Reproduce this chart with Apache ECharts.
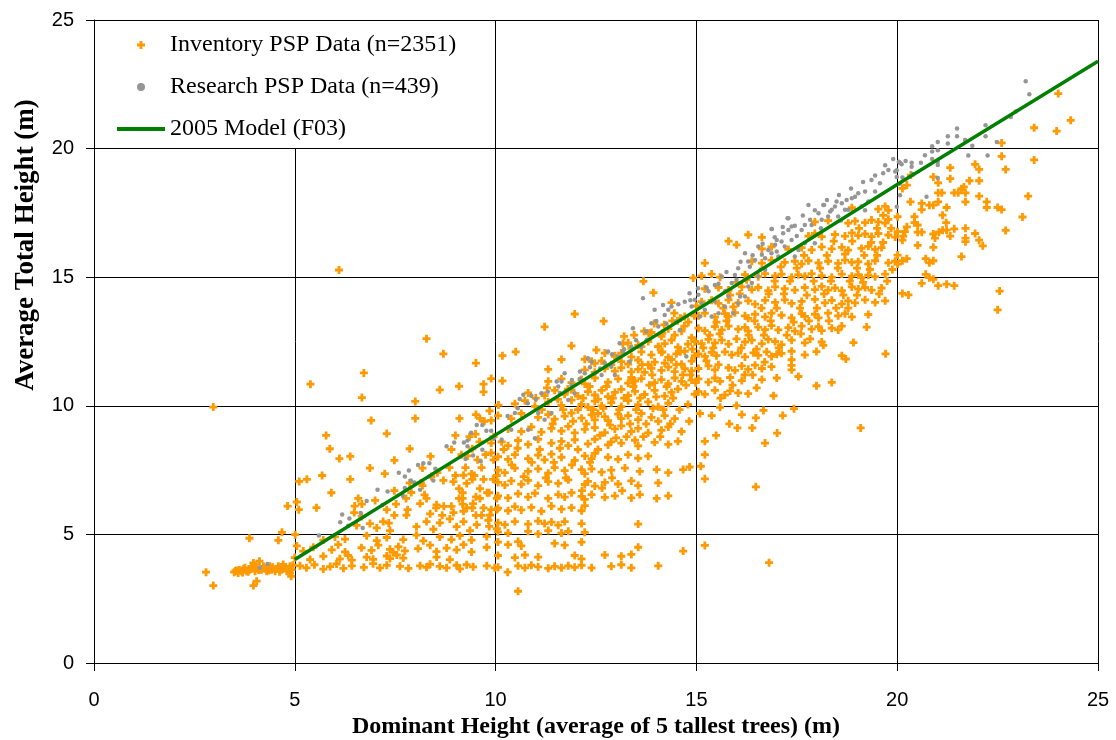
<!DOCTYPE html>
<html>
<head>
<meta charset="utf-8">
<script src="https://cdn.jsdelivr.net/npm/echarts@6/dist/echarts.min.js"></script>
<style>
html,body{margin:0;padding:0;background:#fff;}
#chart{width:1116px;height:740px;}
</style>
</head>
<body>
<div id="chart"></div>
<script>
// Axis ticks
var xTicks = [0, 5, 10, 15, 20, 25];
var yTicks = [0, 5, 10, 15, 20, 25];

// Inventory PSP data (x = dominant height, y = average total height)
var inventoryBelow5 = [
[2.79,3.53],[2.97,3.01],[2.97,9.95],[3.97,3.01],[4.05,3.18],[4.91,3.37],[3.87,4.85],[4.59,4.77],[4.68,5.08],[4.82,6.1],
[3.49,3.53],[3.55,3.6],[3.59,3.5],[3.68,3.57],[3.73,3.66],[3.8,3.57],[3.87,3.63],[3.92,3.76],[3.97,3.89],[4.01,3.57],
[4.05,3.7],[4.12,3.96],[4.17,3.63],[4.22,3.76],[4.3,3.57],[4.38,3.76],[4.42,3.63],[4.51,3.57],[4.59,3.76],[4.67,3.63],
[4.71,3.83],[4.8,3.57],[4.88,3.76],[4.92,3.63],[3.52,3.58],[3.62,3.62],[3.7,3.52],[3.76,3.7],[3.84,3.55],[3.9,3.65],
[4.0,3.8],[4.1,3.62],[4.25,3.68],[4.35,3.6],[4.45,3.72],[4.55,3.65],[4.62,3.55],[4.75,3.7],[4.85,3.62],[4.95,3.8]
];
var inventory5to10 = [
[6.1,15.28],[8.28,12.61],[8.7,12.02],[9.51,11.66],[9.89,11.06],[5.39,10.84],[6.72,11.28],[6.67,10.32],[8.61,10.62],[9.09,10.76],
[9.7,10.84],[9.7,10.54],[8.0,10.17],[8.0,9.51],[6.9,9.43],[7.29,8.92],[5.78,8.85],[5.87,8.33],[6.11,7.95],[6.38,8.03],
[6.38,7.14],[6.87,7.58],[7.48,7.88],[7.86,8.33],[8.38,8.03],[9.1,9.51],[9.51,9.66],[9.61,9.51],[9.89,9.43],[10.07,10.03],
[9.0,8.85],[9.42,8.33],[9.89,8.55],[9.89,8.17],[7.24,7.36],[7.0,6.32],[5.3,7.14],[5.11,7.06],[5.68,7.29],[5.91,6.62],
[6.58,6.4],[6.49,6.1],[6.67,6.18],[5.54,6.04],[5.1,5.96],[5.05,6.26],[7.48,6.7],[7.52,6.18],[7.48,5.74],[7.29,5.96],
[7.34,5.44],[7.77,6.4],[7.81,5.96],[7.86,7.0],[7.9,6.63],[8.14,7.0],[8.23,6.54],[8.28,6.4],[8.18,7.58],[8.52,6.03],
[8.71,6.09],[8.9,6.09],[8.67,5.74],[9.0,7.29],[9.09,6.78],[9.18,6.62],[9.09,6.4],[9.18,6.4],[9.28,6.98],[9.18,6.18],
[9.28,6.03],[9.42,7.14],[9.47,7.29],[9.51,6.46],[9.61,6.78],[9.61,6.4],[9.7,7.14],[9.79,6.62],[9.84,6.62],[9.94,7.14],
[10.03,7.29],[9.42,6.03],[9.51,5.74],[9.65,5.74],[9.7,6.03],[9.89,5.96],[9.84,5.31],[10.03,6.4],[10.03,5.96],[10.03,5.22],
[8.18,6.9],[8.4,7.25],[8.55,7.4],[8.85,7.6],[9.25,7.6],[9.55,7.9],[9.75,8.1],[9.95,8.8],[9.6,8.6],[9.3,8.05],
[8.9,8.3],[9.15,8.1],[9.35,8.8],[9.5,8.9],[9.72,9.4],[9.85,9.8],[9.95,7.9],[9.4,7.35],[9.65,7.6],[8.7,7.1],[8.95,7.05],[9.2,7.3],
[6.48,5.85],[6.67,5.7],[7.78,5.75],[8.12,6.2],[8.37,5.8],[8.53,6.15],[8.95,5.85],[9.2,5.9],[9.44,6.2],[9.86,5.75],
[6.54,5.35],[6.87,5.42],[7.04,5.25],[7.2,5.5],[7.37,5.15],[8.03,5.3],[8.28,5.5],[8.45,5.2],[8.61,5.45],[8.86,5.6],
[9.03,5.3],[9.2,5.5],[9.36,5.15],[9.53,5.38],[9.82,5.55],
[5.01,4.99],[5.71,4.78],[6.0,4.9],[6.25,4.82],[6.79,4.95],[7.04,4.76],[7.29,4.88],[7.7,4.8],[8.03,4.97],[8.2,4.75],
[8.61,4.9],[8.9,4.8],[9.11,4.95],[9.4,4.78],[9.78,4.92],
[5.05,4.55],[5.21,4.35],[5.46,4.5],[5.92,4.4],[6.08,4.6],[6.25,4.32],[6.66,4.48],[6.91,4.38],[7.08,4.58],[7.37,4.42],
[7.45,4.3],[7.58,4.52],[7.74,4.36],[8.07,4.45],[8.37,4.58],[8.53,4.33],[8.78,4.47],[9.03,4.4],[9.2,4.6],[9.4,4.32],[9.78,4.5],
[5.0,4.1],[5.38,4.02],[5.71,4.15],[6.12,4.05],[6.33,4.18],[6.42,4.0],[6.79,4.12],[6.95,4.03],[7.29,4.16],[7.37,4.06],
[7.54,4.2],[7.7,4.08],[8.53,4.12],[8.86,4.02],
[4.88,3.5],[5.13,3.78],[5.29,3.7],[5.49,3.82],[5.71,3.65],[5.88,3.75],[6.04,3.85],[6.21,3.68],[6.42,3.78],[6.72,3.72],
[6.95,3.86],[7.12,3.7],[7.29,3.8],[7.62,3.76],[7.83,3.68],[8.12,3.78],[8.28,3.72],[8.37,3.84],[8.61,3.76],[8.78,3.7],
[9.03,3.8],[9.11,3.66],[9.28,3.82],[9.44,3.74],[9.78,3.78],[9.98,3.7]
];
var inventory10to15 = [
[13.68,14.84],[13.93,14.4],[14.92,14.97],[11.97,13.57],[11.22,13.07],[12.69,13.29],[11.89,12.33],[10.5,12.1],[10.17,11.95],[10.17,10.97],
[11.31,11.42],[11.64,11.8],[12.22,11.81],[12.39,11.73],[12.51,12.17],[12.72,12.05],[12.97,11.92],[13.17,12.41],[13.38,12.23],[13.63,12.3],
[13.81,12.82],[14.05,12.3],[14.15,12.82],[14.38,14.01],[14.53,13.31],[14.71,13.47],[15.0,13.88],
[14.4,13.3],[14.6,13.4],[14.8,13.25],[14.95,13.5],[14.7,13.1],
[13.2,12.7],[13.45,12.75],[13.7,12.9],[13.95,13.2],[14.2,13.15],[14.45,13.6],[14.15,12.1],[13.9,11.2],[14.6,12.1],[14.85,11.2],[13.65,11.6],[13.4,11.0],
[13.88,12.85],[14.13,12.7],[14.3,13.0],[14.46,12.75],[14.63,12.9],[14.88,12.65],
[13.3,12.45],[13.55,12.35],[13.8,12.5],[14.05,12.3],[14.21,12.42],[14.38,12.55],[14.54,12.28],[14.79,12.4],[14.96,12.5],
[12.97,11.95],[13.13,12.05],[13.38,11.9],[13.63,12.1],[13.88,11.98],[14.13,12.08],[14.3,11.88],[14.5,12.02],[14.71,12.12],[14.96,11.95],
[12.47,11.65],[12.64,11.75],[12.88,11.6],[13.13,11.72],[13.3,11.62],[13.55,11.78],[13.8,11.6],[13.96,11.7],[14.21,11.66],[14.38,11.8],[14.63,11.62],[14.88,11.74],
[12.22,11.4],[12.47,11.3],[12.72,11.45],[12.97,11.35],[13.13,11.48],[13.38,11.32],[13.55,11.42],[13.71,11.3],[13.88,11.46],[14.13,11.38],[14.3,11.5],[14.46,11.33],[14.71,11.44],[14.88,11.36],
[11.31,10.95],[11.64,11.05],[11.89,10.9],[12.14,11.02],[12.22,10.85],[12.47,11.08],[12.8,10.92],[13.05,11.05],[13.3,10.88],[13.38,11.1],
[13.47,10.96],[13.63,11.06],[13.96,10.9],[14.13,11.02],[14.3,10.86],[14.46,11.08],[14.63,10.95],[14.88,11.0],
[10.81,10.5],[11.22,10.4],[11.47,10.6],[11.72,10.45],[11.89,10.62],[12.05,10.38],[12.3,10.55],[12.47,10.42],[12.64,10.6],[12.8,10.36],
[12.97,10.52],[13.13,10.64],[13.3,10.4],[13.47,10.56],[13.71,10.44],[13.96,10.6],[14.21,10.38],[14.38,10.52],[14.54,10.65],[14.96,10.45],
[10.48,10.08],[10.73,10.2],[10.98,9.98],[11.31,10.15],[11.64,10.02],[11.89,10.22],[12.14,10.05],[12.3,9.95],[12.47,10.18],[12.64,10.0],
[12.88,10.12],[13.13,9.97],[13.3,10.2],[13.55,10.04],[13.8,10.15],[14.05,9.96],[14.3,10.1],[14.79,10.05],
[11.0,10.3],[11.15,9.85],[11.28,10.7],[11.42,9.3],[11.55,10.25],[11.68,9.85],[11.8,10.65],[11.93,9.4],[12.05,9.85],[12.18,10.3],
[12.26,9.3],[12.34,10.75],[12.43,9.85],[12.55,10.25],[12.6,8.85],[12.68,9.9],[12.76,10.75],[12.85,9.25],[12.92,10.3],[13.0,8.75],
[13.08,9.85],[13.2,10.3],[13.26,8.8],[13.35,9.3],[13.43,10.75],[13.5,9.85],[13.6,10.3],[13.68,8.8],[13.75,9.3],[13.83,10.8],
[13.92,9.9],[14.0,10.35],[14.1,8.8],[14.18,9.85],[14.26,10.75],[14.35,9.3],[14.42,10.3],[14.5,11.6],[14.58,9.85],[14.66,11.2],
[14.74,10.8],[14.82,9.4],[14.9,12.2],[14.98,10.9],
[10.06,9.62],[10.39,9.5],[10.64,9.7],[11.06,9.55],[11.31,9.66],[11.47,9.48],[11.72,9.6],[11.89,9.72],[12.14,9.52],[12.39,9.65],
[12.47,9.45],[12.55,9.7],[12.72,9.58],[12.8,9.42],[13.05,9.68],[13.13,9.5],[13.3,9.62],[13.55,9.46],[13.63,9.7],[13.88,9.55],[14.05,9.4],[14.21,9.62],[14.46,9.5],
[10.31,9.1],[10.64,9.0],[10.89,9.18],[11.14,8.98],[11.39,9.12],[11.64,9.02],[11.81,9.2],[11.97,8.95],[12.22,9.08],[12.47,9.15],
[12.72,8.96],[12.97,9.1],[13.13,9.22],[13.38,9.0],[13.55,9.12],[13.8,8.95],[14.13,9.05],[14.3,9.18],[14.63,9.0],
[10.15,8.6],[10.31,8.45],[10.56,8.65],[10.81,8.5],[11.06,8.7],[11.39,8.55],[11.64,8.62],[11.81,8.45],[11.97,8.68],[12.3,8.52],
[12.47,8.7],[12.8,8.48],[12.88,8.6],[13.13,8.55],[13.47,8.66],[13.55,8.44],[13.96,8.58],[14.3,8.5],[14.54,8.62],
[10.06,8.02],[10.31,7.92],[10.48,8.1],[10.81,7.95],[11.06,8.08],[11.22,7.9],[11.39,8.12],[11.64,8.0],[11.97,7.88],[12.22,8.05],
[12.39,7.95],[12.47,8.15],[12.8,8.0],[13.05,7.92],[13.3,8.1],[13.55,7.96],[13.8,8.04],
[10.2,8.3],[10.4,7.7],[10.55,8.35],[10.7,7.25],[10.9,7.8],[11.1,8.3],[11.25,7.2],[11.45,7.8],[11.6,8.35],[11.75,7.2],
[11.9,7.7],[12.05,8.3],[12.15,6.7],[12.35,7.8],[12.55,8.3],[12.65,6.8],[12.9,7.2],[13.15,6.7],
[10.06,7.5],[10.23,7.4],[10.48,7.58],[10.81,7.45],[11.06,7.55],[11.31,7.38],[11.47,7.6],[11.72,7.48],[12.14,7.52],[12.22,7.36],
[12.39,7.55],[12.64,7.42],[12.88,7.5],[13.22,7.58],[13.59,7.45],[14.01,7.52],[14.3,7.4],[14.67,7.52],[14.83,7.62],
[10.06,7.02],[10.23,6.92],[10.39,7.08],[10.64,6.95],[10.81,7.1],[11.06,6.9],[11.31,7.05],[11.56,6.98],[11.81,7.12],[12.22,6.94],
[12.3,7.06],[12.47,6.88],[12.72,7.02],[13.05,6.96],[13.38,7.08],[13.55,6.9],[14.05,7.0],
[10.06,6.5],[10.31,6.42],[10.56,6.58],[10.81,6.45],[10.98,6.6],[11.31,6.4],[11.56,6.55],[11.72,6.45],[11.89,6.62],[12.14,6.48],
[12.22,6.36],[12.39,6.55],[12.72,6.44],[12.97,6.5],[13.38,6.42],[13.59,6.55],[14.01,6.4],[14.3,6.5],
[10.06,6.02],[10.31,5.92],[10.48,6.08],[10.64,5.95],[10.89,6.05],[11.14,5.9],[11.39,6.1],[11.64,5.98],[11.89,6.04],[12.14,5.92],[12.22,6.12],
[10.06,5.45],[10.23,5.38],[10.48,5.5],[10.81,5.4],[11.06,5.52],[11.22,5.42],[11.39,5.48],[11.56,5.36],[11.72,5.5],[12.14,5.42],[13.55,5.4],
[10.06,5.1],[10.31,5.05],[10.81,5.12],[11.06,5.02],[11.31,5.15],[11.64,5.05],[11.81,5.12],[12.22,5.08],
[10.06,4.7],[10.31,4.6],[10.56,4.72],[10.64,4.55],[11.47,4.65],[11.72,4.58],[12.14,4.7],[13.55,4.5],
[10.06,4.18],[10.48,4.1],[10.73,4.2],[11.06,4.12],[11.97,4.18],[12.14,4.05],[12.72,4.2],[13.13,4.15],[13.38,4.22],[14.67,4.35],
[10.06,3.72],[10.56,3.78],[10.73,3.7],[10.89,3.8],[11.06,3.74],[11.31,3.68],[11.47,3.76],[11.64,3.7],[11.81,3.78],[11.97,3.72],
[12.14,3.8],[12.39,3.7],[12.88,3.76],[13.13,3.82],[13.38,3.7],[14.05,3.78],[10.3,3.53],[10.56,2.79]
];
var inventory15to20 = [
[15.21,4.57],[16.81,3.9],[16.48,6.85],[15.21,7.16],[15.11,7.65],[15.21,8.1],[15.21,8.62],[16.71,8.55],[17.01,8.94],[15.49,8.85],
[16.02,9.14],[16.39,9.14],[19.09,9.14],[15.82,9.3],[16.48,9.53],[17.15,9.62],[17.43,9.89],[16.67,9.82],[16.13,9.66],[15.09,9.7],
[15.38,9.62],[15.59,9.94],[16.0,10.01],[16.92,10.39],[16.29,10.47],[17.99,10.78],[18.37,10.91],[17.54,11.14],[17.0,11.08],[18.62,11.95],
[18.72,11.82],[19.71,12.02],[19.24,13.06],[18.91,12.46],[17.99,12.11],[17.37,11.79],[17.37,11.57],
[15.05,10.55],[15.21,10.45],[15.46,10.6],[15.71,10.42],[15.84,10.58],[16.04,10.5],
[15.05,11.05],[15.3,10.92],[15.46,11.08],[15.59,10.95],[15.84,11.1],[16.13,10.98],[16.63,11.02],
[15.05,11.45],[15.3,11.55],[15.46,11.4],[15.55,11.6],[15.8,11.48],[15.96,11.38],[16.13,11.55],[16.29,11.42],[16.46,11.58],[16.63,11.45],[16.87,11.52],[17.37,11.4],
[15.05,12.02],[15.21,11.92],[15.38,12.08],[15.5,11.95],[15.71,12.1],[15.88,11.98],[16.04,12.05],[16.21,11.9],[16.42,12.06],[16.54,11.96],[16.75,12.1],[16.87,11.92],[17.12,12.04],[17.37,12.12],[17.7,11.98],
[14.97,12.5],[15.13,12.42],[15.3,12.58],[15.46,12.45],[15.63,12.55],[15.8,12.4],[16.0,12.6],[16.21,12.48],[16.38,12.55],[16.63,12.42],
[16.79,12.58],[16.96,12.5],[17.12,12.38],[17.37,12.55],[17.7,12.45],[17.83,12.6],[18.12,12.48],[18.16,12.35],
[15.05,13.02],[15.21,12.92],[15.46,13.08],[15.63,12.95],[15.8,13.1],[16.04,12.98],[16.21,13.05],[16.29,12.9],[16.54,13.06],[16.71,12.96],
[16.87,13.12],[17.04,12.95],[17.29,13.04],[17.45,12.9],[17.62,13.1],[17.87,12.98],[18.04,13.08],[18.12,12.92],[18.37,13.02],[18.53,12.95],[18.62,13.1],
[15.05,13.5],[15.21,13.6],[15.46,13.45],[15.71,13.58],[15.8,13.48],[15.96,13.62],[16.21,13.5],[16.29,13.4],[16.46,13.56],[16.71,13.46],
[16.87,13.6],[17.12,13.52],[17.37,13.42],[17.62,13.58],[17.7,13.48],[17.95,13.56],[18.04,13.42],[18.28,13.6],[18.53,13.5],[18.7,13.58],[18.87,13.46],[19.28,13.55],
[15.13,14.05],[15.38,14.1],[15.55,13.98],[15.8,14.12],[16.04,14.0],[16.29,14.08],[16.46,13.95],[16.71,14.1],[16.96,14.02],[17.2,14.12],
[17.37,13.98],[17.62,14.06],[17.95,14.14],[18.2,14.0],[18.37,14.1],[18.62,13.96],[18.78,14.08],[18.95,14.0],[19.2,14.12],[19.45,14.02],[19.7,14.08],
[15.21,14.55],[15.55,14.6],[15.8,14.5],[16.13,14.62],[16.38,14.52],[16.54,14.6],[16.79,14.48],[16.96,14.62],[17.2,14.55],[17.45,14.5],
[17.7,14.6],[17.95,14.52],[18.12,14.64],[18.28,14.5],[18.45,14.58],[18.62,14.48],[18.87,14.62],[19.03,14.54],[19.2,14.6],[19.36,14.5],[19.61,14.58],
[15.13,15.05],[15.38,15.12],[15.59,15.0],[16.21,15.1],[16.54,15.02],[16.71,15.14],[16.96,15.05],[17.12,15.12],[17.37,15.0],[17.54,15.1],
[17.7,15.04],[17.87,15.14],[18.12,15.06],[18.37,15.0],[18.62,15.12],[18.87,15.04],[19.03,15.1],[19.11,14.98],[19.28,15.08],[19.45,15.02],[19.7,15.12],
[15.21,15.55],[16.38,15.62],[16.63,15.55],[16.87,15.66],[17.2,15.58],[17.45,15.62],[17.62,15.52],[17.79,15.64],[18.04,15.56],[18.28,15.62],
[18.53,15.54],[18.7,15.66],[18.87,15.58],[19.03,15.6],[19.28,15.52],[19.45,15.64],[19.78,15.56],[19.95,15.62],
[15.8,16.4],[16.0,16.26],[16.63,16.1],[16.87,16.18],[17.29,16.08],[17.62,16.15],[17.87,16.06],[18.12,16.18],[18.37,16.1],[18.62,16.16],
[18.78,16.05],[19.11,16.12],[19.28,16.2],[19.45,16.08],[19.61,16.15],
[16.29,16.65],[16.63,16.55],[17.79,16.6],[17.95,16.7],[18.12,16.58],[18.45,16.66],[18.7,16.6],[18.87,16.72],[19.03,16.62],[19.2,16.68],
[19.36,16.58],[19.53,16.7],[19.78,16.64],[19.95,16.56],
[17.95,17.15],[18.28,17.2],[18.78,17.1],[18.95,17.18],[19.2,17.12],[19.36,17.22],[19.53,17.15],[19.7,17.1],[19.78,17.25],
[18.87,17.7],[19.53,17.65],[19.7,17.75],[19.78,17.6],
[15.17,12.25],[15.33,12.75],[15.5,13.25],[15.67,13.8],[15.84,14.3],[16.0,14.8],[15.25,11.75],[15.42,12.25],[15.58,12.8],[15.75,13.3],
[15.92,13.85],[16.08,14.35],[16.25,14.9],[16.12,12.25],[16.3,12.75],[16.45,13.3],[16.62,13.8],[16.8,14.35],[16.95,14.85],[17.1,15.4],
[16.5,12.2],[16.68,12.75],[16.85,13.3],[17.0,13.8],[17.18,14.35],[17.33,14.85],[17.5,15.35],[17.68,15.85],[17.05,12.25],[17.25,12.75],
[17.42,13.25],[17.58,13.8],[17.75,14.3],[17.92,14.85],[18.08,15.35],[18.25,15.85],[18.42,16.4],[17.6,12.8],[17.8,13.3],[18.0,13.8],
[18.18,14.35],[18.35,14.85],[18.52,15.35],[18.7,15.9],[18.88,16.4],[19.05,16.9],[18.3,13.3],[18.48,13.8],[18.66,14.3],[18.82,14.85],
[19.0,15.35],[19.18,15.85],[19.35,16.35],[19.5,16.9],[19.65,17.4],[18.78,13.8],[19.0,14.3],[19.15,14.8],[19.32,15.3],[19.5,15.85],
[19.65,16.35],[19.85,16.9],[19.55,14.35],[19.75,14.85],[19.88,15.3],[16.4,11.2],[16.7,11.7],[17.0,12.0],[15.6,10.3],[15.9,10.8],
[16.2,11.2],[16.5,10.7]
];
var inventoryAbove20 = [
[24.01,22.14],[24.32,21.1],[23.97,20.68],[23.41,20.81],[23.41,19.56],[22.6,20.22],[22.6,19.7],[22.7,19.19],[23.26,18.15],[23.12,17.34],
[22.7,16.82],[22.5,17.71],[22.6,17.63],[22.23,17.93],[22.23,17.71],[22.04,18.75],[22.04,18.15],[21.94,19.39],[22.04,19.19],[21.8,18.75],
[21.7,17.93],[21.7,18.28],[21.66,18.51],[21.6,18.44],[21.52,18.28],[21.42,18.28],[21.32,19.26],[21.32,18.83],[21.94,16.7],[22.04,16.44],
[22.13,16.22],[21.7,16.9],[21.7,16.52],[21.7,16.38],[21.6,15.8],[21.22,17.12],[21.13,17.41],[20.51,16.75],[20.61,16.75],[20.51,16.24],
[20.43,17.35],[20.43,17.12],[20.51,17.03],[20.24,15.72],[20.13,15.64],[20.01,15.86],[20.01,15.51],[20.71,15.72],[20.8,15.56],[20.9,15.64],
[20.71,15.11],[20.8,14.98],[20.9,14.92],[20.61,14.76],[21.02,14.67],[21.23,14.73],[21.42,14.67],[20.13,14.37],[20.28,14.31],[22.55,14.46],
[22.5,13.73],[20.13,18.45],[20.24,18.58],[20.34,18.97],[20.9,18.9],[21.02,18.67],[21.02,18.28],[21.11,18.28],[21.02,17.93],[20.9,17.8],
[20.8,17.8],[20.33,17.93],[20.61,17.87],[20.61,17.63],[21.23,17.71],[21.42,16.88],[21.32,16.6],[21.23,16.83],[21.13,16.83],[21.04,16.75],
[20.9,16.68],[20.94,16.52],[20.9,16.16],[20.24,16.96],[20.19,16.77],[20.13,16.44],[20.15,16.6],[20.01,17.35],[20.01,16.77]
];

// Research PSP data
var researchBelow10 = [
[4.13,3.7],[4.32,3.85],[5.6,4.96],[5.98,4.96],[6.13,5.47],[6.18,5.77],[6.36,5.62],[6.33,5.34],[6.64,5.83],[6.69,5.25],
[6.79,6.3],[7.06,6.74],[7.18,6.14],[7.31,6.67],[7.59,7.4],[7.74,7.25],[7.74,6.8],[7.69,6.5],[7.84,7.48],[7.89,7.1],
[7.98,7.02],[8.07,7.7],[8.12,6.74],[8.2,7.77],[8.35,7.77],[8.35,7.25],[8.45,7.1],[8.5,7.55],[8.78,8.43],[8.97,8.57],
[9.21,8.57],[9.25,7.93],[9.3,8.43],[9.3,8.65],[9.39,8.95],[9.44,8.07],[9.53,9.25],[9.67,9.25],[9.67,8.29],[9.63,7.84],
[9.77,9.03],[9.89,9.03],[9.96,8.73]
];
var research10to15 = [
[10.15,8.68],[10.39,9.07],[10.48,9.72],[10.6,10.26],[10.69,10.43],[10.81,9.07],[10.89,10.39],[10.98,8.74],[11.06,9.72],[11.14,10.49],
[11.22,9.46],[11.39,9.72],[11.52,10.94],[11.56,10.75],[11.64,10.94],[11.72,11.27],[11.81,10.23],[11.89,10.82],[11.97,10.49],[12.1,11.33],
[12.22,11.27],[12.3,11.85],[12.39,11.72],[12.47,11.27],[12.64,11.2],[12.72,11.66],[12.8,12.11],[12.88,11.53],[12.97,11.2],[13.05,11.92],
[13.09,12.43],[13.17,12.11],[13.34,11.72],[13.38,12.3],[13.42,13.02],[13.63,12.3],[13.67,14.18],[13.76,12.56],[13.88,13.21],[13.96,13.73],
[14.05,13.08],[14.17,13.92],[14.21,13.53],[14.3,13.73],[14.38,13.86],[14.5,13.27],[14.59,12.95],[14.71,14.05],[14.75,11.92],[14.83,14.38],
[14.88,13.86],[14.96,14.12],[15.04,14.57],
[10.3,9.6],[10.55,9.9],[10.8,10.1],[11.0,10.25],[11.3,10.55],[11.6,10.5],[11.9,11.0],[12.1,11.05],[12.35,11.5],[12.6,11.45],
[12.9,12.0],[13.2,12.2],[13.5,12.55],[13.75,12.9],[14.0,13.3],[14.25,13.2],[14.55,13.95],[14.85,14.1]
];
var research15to20 = [
[15.05,14.32],[15.13,13.99],[15.3,14.45],[15.46,14.7],[15.46,14.06],[15.63,15.03],[15.71,14.45],[15.8,14.25],[15.88,14.77],[15.96,15.09],
[16.04,15.35],[16.09,14.25],[16.21,15.93],[16.29,15.61],[16.38,14.77],[16.46,15.67],[16.54,16.19],[16.63,15.87],[16.71,15.29],[16.79,16.06],
[16.87,16.87],[16.96,16.26],[17.04,15.8],[17.12,16.39],[17.2,16.19],[17.29,17.29],[17.29,16.84],[17.37,16.45],[17.45,15.8],[17.54,16.06],
[17.62,16.84],[17.7,16.32],[17.79,17.81],[17.83,17.23],[17.87,17.03],[17.95,16.32],[18.04,17.49],[18.16,17.81],[18.28,17.36],[18.37,17.62],
[18.45,17.75],[18.53,17.36],[18.62,17.88],[18.7,17.62],[18.78,17.62],[18.87,18.07],[18.95,18.13],[19.03,18.26],[19.11,17.75],[19.2,18.33],
[19.28,17.94],[19.36,18.78],[19.45,18.33],[19.57,18.65],[19.65,19.04],[19.78,19.17],[19.95,19.11],
[15.09,13.47],[15.21,13.73],[15.38,13.47],[15.55,13.6],[15.71,13.86],[15.92,13.6],[16.04,13.99],[16.21,14.25],[16.29,14.64],[16.54,15.03],
[16.71,15.74],[16.87,15.93],[17.0,16.45],[17.16,16.71],[17.37,16.97],[17.7,17.03],[18.12,17.23],[18.33,17.55],[18.49,17.94],[18.74,18.0],
[16.33,15.41],[17.27,17.29],[18.18,17.81],[16.88,16.87],
[15.25,14.6],[15.55,14.75],[15.75,15.2],[16.1,15.6],[16.4,15.85],[16.65,16.3],[16.95,16.55],[17.15,16.95],[17.45,17.0],[17.65,17.4],
[17.95,17.6],[18.25,18.0],[18.55,18.2],[18.85,18.45],[19.15,18.7],[19.45,18.95],[19.7,19.35],[19.9,19.6],[16.0,14.9],[16.6,15.3],
[17.0,16.0],[17.5,16.6],[18.1,16.9],[18.6,17.2],[19.2,17.6]
];
var researchAbove20 = [
[20.04,19.49],[23.2,22.62],[23.29,22.11],[22.95,21.44],[22.83,21.23],[22.2,20.91],[22.2,20.48],[22.48,20.26],[22.25,19.73],[21.49,20.78],
[21.49,20.48],[21.26,20.48],[21.26,20.2],[21.69,20.33],[21.87,20.11],[21.77,19.73],[21.01,20.26],[20.87,20.09],[20.87,19.89],[21.01,19.94],
[20.69,19.74],[20.87,19.6],[21.01,19.49],[21.01,19.36],[20.59,19.45],[20.36,19.45],[20.36,19.29],[20.21,19.52],[20.11,19.39],[20.07,19.45],
[20.13,18.88],[20.07,18.64],[20.07,18.19],[19.99,17.74],[20.73,18.13],[21.01,18.86],[20.38,19.01],[19.99,19.16],[19.99,18.9]
];

// 2005 Model (F03) line
var modelX = [5, 10, 15, 20, 25];
var modelY = [4.02, 8.87, 13.72, 18.6, 23.4];

var seriesNames = ['Inventory PSP Data (n=2351)', 'Research PSP Data (n=439)', '2005 Model (F03)'];

var inventory = inventoryBelow5.concat(inventory5to10, inventory10to15, inventory15to20, inventoryAbove20);
var research = researchBelow10.concat(research10to15, research15to20, researchAbove20);
var model = modelX.map(function (x, i) { return [x, modelY[i]]; });

var chart = echarts.init(document.getElementById('chart'), null, {renderer: 'canvas'});
var plus = 'path://M2.6,0H5.4V2.6H8V5.4H5.4V8H2.6V5.4H0V2.6H2.6Z';
var axisCommon = {
  type: 'value', min: xTicks[0], max: xTicks[xTicks.length - 1], interval: 5,
  axisLine: {show: true, onZero: false, lineStyle: {color: '#000', width: 1}},
  axisTick: {show: true, inside: false, length: 8, lineStyle: {color: '#000'}},
  splitLine: {show: true, lineStyle: {color: '#000', width: 1}},
  axisLabel: {color: '#000', fontFamily: 'Liberation Sans', fontSize: 20}
};
chart.setOption({
  animation: false,
  backgroundColor: '#fff',
  grid: {left: 94, right: 18, top: 20, bottom: 77, containLabel: false, outerBoundsMode: 'none'},
  xAxis: Object.assign({}, axisCommon, {
    axisLabel: Object.assign({}, axisCommon.axisLabel, {margin: 27}),
    name: 'Dominant Height (average of 5 tallest trees) (m)',
    nameLocation: 'middle', nameGap: 48,
    nameTextStyle: {fontFamily: 'Liberation Serif', fontWeight: 'bold', fontSize: 24, color: '#000'}
  }),
  yAxis: Object.assign({}, axisCommon, {
    min: yTicks[0], max: yTicks[yTicks.length - 1],
    axisLabel: Object.assign({}, axisCommon.axisLabel, {margin: 20})
  }),
  graphic: [{
    type: 'text', x: 26, y: 245, rotation: Math.PI / 2, z: 100,
    style: {text: 'Average Total Height (m)', font: 'bold 27px "Liberation Serif"', fill: '#000',
            textAlign: 'center', textVerticalAlign: 'middle', align: 'center', verticalAlign: 'middle'}
  }],
  legend: {
    orient: 'vertical', left: 95, top: 21,
    padding: [12, 16, 7, 22], itemGap: 18, itemWidth: 48, itemHeight: 8,
    backgroundColor: '#fff',
    textStyle: {fontFamily: 'Liberation Serif', fontSize: 24, color: '#000'},
    data: [
      {name: seriesNames[0]},
      {name: seriesNames[1]},
      {name: seriesNames[2], icon: 'path://M0,0H48V4H0Z'}
    ]
  },
  series: [
    {name: seriesNames[0], type: 'scatter', data: inventory, symbol: plus, symbolSize: 8,
     itemStyle: {color: '#FF9900', opacity: 1}, z: 2},
    {name: seriesNames[1], type: 'scatter', data: research, symbol: 'circle', symbolSize: 4.5,
     itemStyle: {color: '#969696', opacity: 1}, z: 3},
    {name: seriesNames[2], type: 'line', data: model, symbol: 'none', showSymbol: false,
     lineStyle: {color: '#008000', width: 3.5}, itemStyle: {color: '#008000'}, z: 4}
  ]
});
</script>
</body>
</html>
